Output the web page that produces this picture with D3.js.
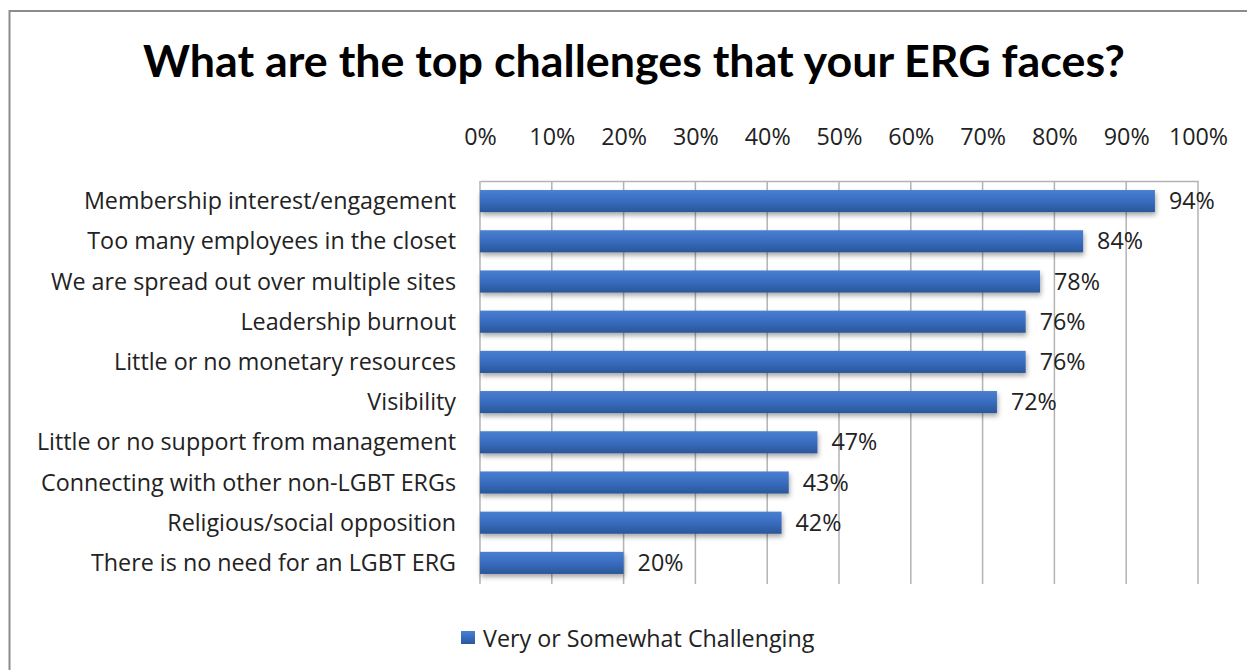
<!DOCTYPE html>
<html>
<head>
<meta charset="utf-8">
<script src="https://cdn.jsdelivr.net/npm/d3@7"></script>
<style>
  html, body { margin: 0; padding: 0; background: #fff; }
  svg { display: block; }
  text { font-family: "Open Sans", Lato, sans-serif; }
  text.chart-title { font-family: Lato, "Open Sans", sans-serif; }
</style>
</head>
<body>
<svg id="chart" width="1247" height="670"></svg>
<script>
// Survey results: share of respondents rating each item a challenge
const categories = [
  "Membership interest/engagement",
  "Too many employees in the closet",
  "We are spread out over multiple sites",
  "Leadership burnout",
  "Little or no monetary resources",
  "Visibility",
  "Little or no support from management",
  "Connecting with other non-LGBT ERGs",
  "Religious/social opposition",
  "There is no need for an LGBT ERG"
];
const values = [94, 84, 78, 76, 76, 72, 47, 43, 42, 20];
const tickValues = [0, 10, 20, 30, 40, 50, 60, 70, 80, 90, 100];
const seriesName = "Very or Somewhat Challenging";
const chartTitle = "What are the top challenges that your ERG faces?";

const svg = d3.select("#chart");
const W = 1247, H = 670;
const plot = { left: 480, right: 1198, top: 181, bottom: 583 };
const labelSize = 23.3;

// Outer chart frame
svg.append("rect")
  .attr("x", 9.5).attr("y", 11)
  .attr("width", W + 10).attr("height", H + 10)
  .attr("fill", "#fff")
  .attr("stroke", "#8c8c8c").attr("stroke-width", 2);

const defs = svg.append("defs");
const grad = defs.append("linearGradient")
  .attr("id", "barGrad").attr("x1", 0).attr("y1", 0).attr("x2", 0).attr("y2", 1);
grad.append("stop").attr("offset", "0%").attr("stop-color", "#4a7fd0");
grad.append("stop").attr("offset", "45%").attr("stop-color", "#3a6ec2");
grad.append("stop").attr("offset", "100%").attr("stop-color", "#2a5798");

const shadow = defs.append("filter").attr("id", "barShadow")
  .attr("x", "-5%").attr("y", "-40%").attr("width", "110%").attr("height", "200%");
shadow.append("feDropShadow")
  .attr("dx", 1).attr("dy", 3).attr("stdDeviation", 2.5)
  .attr("flood-color", "#000").attr("flood-opacity", 0.35);

// Title
svg.append("text")
  .attr("class", "chart-title")
  .attr("x", 634).attr("y", 77)
  .attr("text-anchor", "middle")
  .attr("font-size", 44.8).attr("font-weight", "bold")
  .attr("fill", "#000")
  .text(chartTitle);

const x = d3.scaleLinear().domain([0, 100]).range([plot.left, plot.right]);
const y = d3.scaleBand().domain(categories).range([plot.top, plot.bottom]).paddingInner(0.45).paddingOuter(0.225);

// Vertical gridlines
svg.append("g").selectAll("line")
  .data(tickValues)
  .join("line")
  .attr("x1", d => x(d)).attr("x2", d => x(d))
  .attr("y1", plot.top).attr("y2", plot.bottom + 1)
  .attr("stroke", "#b3b3b3").attr("stroke-width", 1.5);

// Top axis
const xAxis = d3.axisTop(x)
  .tickValues(tickValues)
  .tickFormat(d => d + "%")
  .tickSize(0)
  .tickPadding(36);
const gx = svg.append("g").attr("transform", `translate(0,${plot.top})`).call(xAxis);
gx.select(".domain").attr("stroke", "#b3b3b3").attr("stroke-width", 1.5);
gx.selectAll("text")
  .attr("font-size", labelSize)
  .attr("fill", "#222")
  .style("font-family", "'Open Sans', Lato, sans-serif");

// Bars
svg.append("g").selectAll("rect")
  .data(values)
  .join("rect")
  .attr("x", x(0))
  .attr("y", (d, i) => y(categories[i]))
  .attr("width", d => x(d) - x(0))
  .attr("height", y.bandwidth())
  .attr("fill", "url(#barGrad)")
  .attr("filter", "url(#barShadow)");

// Category labels
svg.append("g").selectAll("text")
  .data(categories)
  .join("text")
  .attr("x", 456)
  .attr("y", d => y(d) + y.bandwidth() / 2 + 8)
  .attr("text-anchor", "end")
  .attr("font-size", labelSize)
  .attr("fill", "#222")
  .text(d => d);

// Value labels
svg.append("g").selectAll("text")
  .data(values)
  .join("text")
  .attr("x", d => x(d) + 14)
  .attr("y", (d, i) => y(categories[i]) + y.bandwidth() / 2 + 8)
  .attr("font-size", labelSize)
  .attr("fill", "#222")
  .text(d => d + "%");

// Legend
const legend = svg.append("g").attr("transform", "translate(461,631)");
legend.append("rect")
  .attr("width", 14).attr("height", 13)
  .attr("fill", "url(#barGrad)");
legend.append("text")
  .attr("x", 22).attr("y", 16)
  .attr("font-size", labelSize)
  .attr("fill", "#222")
  .text(seriesName);
</script>
</body>
</html>
